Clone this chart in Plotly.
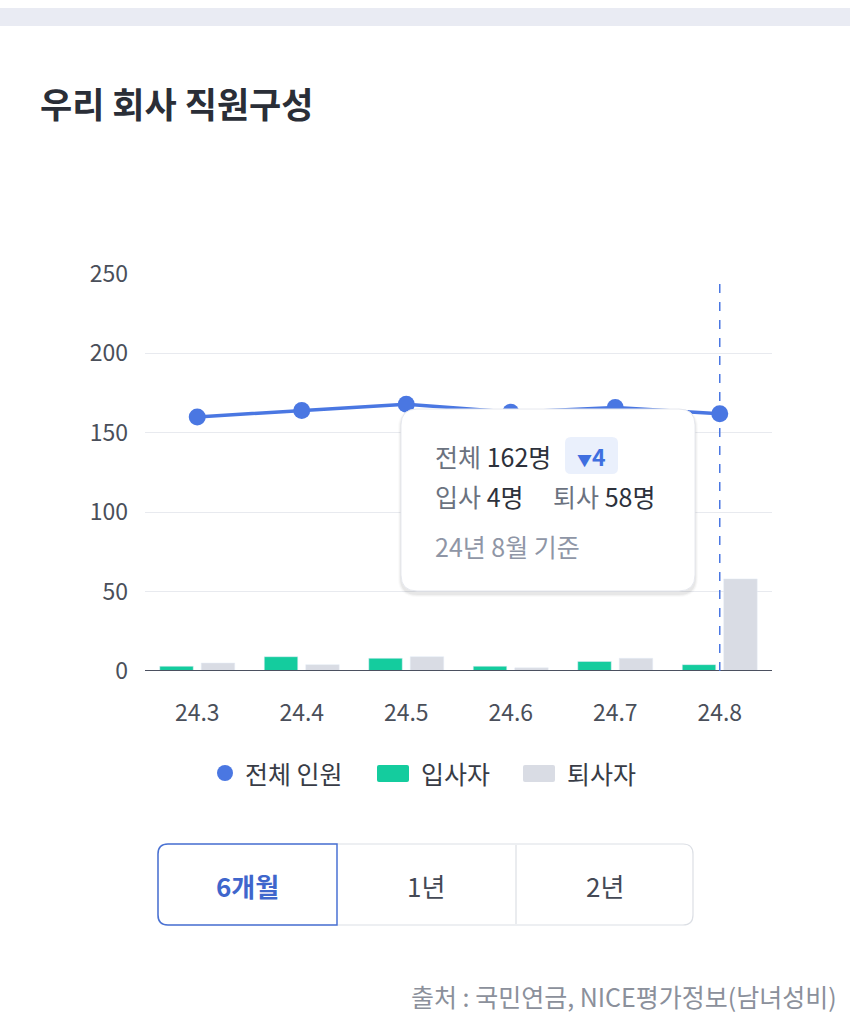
import plotly.graph_objects as go

# ---- data ----
months = ["24.3", "24.4", "24.5", "24.6", "24.7", "24.8"]
total = [160, 164, 168, 163, 166, 162]
joined = [3, 9, 8, 3, 6, 4]
left = [5, 4, 9, 2, 8, 58]
y_ticks = [0, 50, 100, 150, 200, 250]

W, H = 850, 1036
FONT = "Noto Sans CJK KR"
BLUE = "#4a77e2"
GREEN = "#14cc9e"
GRAY = "#d9dce4"


def px(x):
    return x / W


def py(y):
    return 1 - y / H


def path_from(pts):
    s = ""
    for p in pts:
        cmd = p[0]
        nums = p[1:]
        coords = []
        for i in range(0, len(nums), 2):
            coords.append(f"{px(nums[i]):.5f},{py(nums[i+1]):.5f}")
        s += cmd + " " + " ".join(coords) + " "
    return s + "Z"


def rrect(x0, y0, x1, y1, r):
    return path_from([
        ("M", x0 + r, y0), ("L", x1 - r, y0), ("Q", x1, y0, x1, y0 + r),
        ("L", x1, y1 - r), ("Q", x1, y1, x1 - r, y1), ("L", x0 + r, y1),
        ("Q", x0, y1, x0, y1 - r), ("L", x0, y0 + r), ("Q", x0, y0, x0 + r, y0),
    ])


def left_rrect(x0, y0, x1, y1, r):
    return path_from([
        ("M", x0 + r, y0), ("L", x1, y0), ("L", x1, y1), ("L", x0 + r, y1),
        ("Q", x0, y1, x0, y1 - r), ("L", x0, y0 + r), ("Q", x0, y0, x0 + r, y0),
    ])


fig = go.Figure()
fig.add_trace(go.Bar(x=months, y=joined, marker_color=GREEN, name="입사자",
                     showlegend=False, hoverinfo="skip"))
fig.add_trace(go.Bar(x=months, y=left, marker_color=GRAY, name="퇴사자",
                     showlegend=False, hoverinfo="skip"))
fig.add_trace(go.Scatter(x=months, y=total, mode="lines+markers", name="전체 인원",
                         line=dict(color=BLUE, width=3.5),
                         marker=dict(color=BLUE, size=17), showlegend=False,
                         hoverinfo="skip"))

shapes = []
annotations = []

# top band
shapes.append(dict(type="rect", xref="paper", yref="paper", x0=0, x1=1,
                   y0=py(26), y1=py(8), fillcolor="#e9ebf3", line_width=0, layer="below"))

# zero baseline
shapes.append(dict(type="line", xref="paper", yref="y", x0=px(145), x1=px(772), y0=0, y1=0,
                   line=dict(color="#4b5060", width=2), layer="above"))

# dashed vertical line at last month (category index)
sel = len(months) - 1
shapes.append(dict(type="line", xref="x", yref="paper", x0=sel, x1=sel,
                   y0=py(671), y1=py(277), line=dict(color=BLUE, width=1.5, dash="dash"),
                   layer="above"))

# tooltip shadow and box
for i, c in enumerate(["rgba(0,0,0,0.02)", "rgba(0,0,0,0.03)", "rgba(0,0,0,0.045)"]):
    g = 3 - i
    shapes.append(dict(type="path", xref="paper", yref="paper",
                       path=rrect(401 - g, 409 - g + 3, 695 + g, 591 + g + 3, 16 + g),
                       fillcolor=c, line_width=0, layer="above"))
shapes.append(dict(type="path", xref="paper", yref="paper", path=rrect(401, 409, 695, 591, 16),
                   fillcolor="white", line=dict(color="#e6e8ee", width=1), layer="above"))
# badge
shapes.append(dict(type="path", xref="paper", yref="paper", path=rrect(565, 437, 618, 474, 6),
                   fillcolor="#eaf0fc", line_width=0, layer="above"))

# legend
shapes.append(dict(type="circle", xref="paper", yref="paper", x0=px(217), x1=px(233),
                   y0=py(781), y1=py(765), fillcolor=BLUE, line_width=0))
shapes.append(dict(type="path", xref="paper", yref="paper", path=rrect(377, 765, 409, 782, 2),
                   fillcolor=GREEN, line_width=0))
shapes.append(dict(type="path", xref="paper", yref="paper", path=rrect(523, 765, 555, 782, 2),
                   fillcolor=GRAY, line_width=0))

# buttons
shapes.append(dict(type="path", xref="paper", yref="paper", path=rrect(158, 844, 693, 925, 10),
                   fillcolor="white", line=dict(color="#dcdfe5", width=1.2)))
shapes.append(dict(type="line", xref="paper", yref="paper", x0=px(516), x1=px(516),
                   y0=py(845), y1=py(924), line=dict(color="#dcdfe5", width=1.2)))
shapes.append(dict(type="path", xref="paper", yref="paper", path=left_rrect(158, 844, 337, 925, 10),
                   fillcolor="rgba(0,0,0,0)", line=dict(color="#4a72d4", width=1.5)))


def txt(x, y, s, size, color, anchor="left", bold=False):
    if bold:
        s = "<b>" + s + "</b>"
    annotations.append(dict(xref="paper", yref="paper", x=px(x), y=py(y), text=s,
                            showarrow=False, xanchor=anchor, yanchor="middle",
                            font=dict(family=FONT, size=size, color=color)))


txt(38, 102, "우리 회사 직원구성", 35, "#2a2e37", bold=True)

# tooltip text
txt(433, 456, "<span style='color:#6b7280'>전체</span> <span style='color:#2d313b'>162명</span>", 25, "#2d313b")
txt(591, 456, "<span style='font-size:15px'>▼</span>4", 23, "#3f6fe0", anchor="center", bold=True)
txt(433, 496, "<span style='color:#6b7280'>입사</span> <span style='color:#2d313b'>4명</span>", 25, "#2d313b")
txt(551, 496, "<span style='color:#6b7280'>퇴사</span> <span style='color:#2d313b'>58명</span>", 25, "#2d313b")
txt(433, 546, "24년 8월 기준", 25, "#8f96a6")

# legend text
txt(243, 773, "전체 인원", 25, "#383c46")
txt(419, 773, "입사자", 25, "#383c46")
txt(565, 773, "퇴사자", 25, "#383c46")

# buttons text
txt(247.5, 885, "6개월", 26, "#3f66cc", anchor="center", bold=True)
txt(426.5, 885, "1년", 26, "#444955", anchor="center")
txt(604.5, 885, "2년", 26, "#444955", anchor="center")

# source
txt(839, 996, "출처 : 국민연금, NICE평가정보(남녀성비)", 25, "#8b909b", anchor="right")

fig.update_layout(
    width=W, height=H, margin=dict(l=0, r=0, t=0, b=0, autoexpand=False),
    paper_bgcolor="white", plot_bgcolor="white",
    barmode="group", bargap=0.206, bargroupgap=0.193,
    shapes=shapes, annotations=annotations,
    font=dict(family=FONT),
    xaxis=dict(type="category", domain=[px(145), px(772)], range=[-0.5, len(months) - 0.5],
               showgrid=False, zeroline=False,
               showline=False, ticks="", tickfont=dict(size=23, color="#4a4f5a"),
               tickangle=0, automargin=False,
               ticklabelstandoff=26, fixedrange=True),
    yaxis=dict(domain=[py(671), py(274)], range=[0, 250], tickvals=y_ticks,
               showgrid=True, gridcolor="#e8eaef", gridwidth=1, zeroline=False,
               showline=False, ticks="", tickfont=dict(size=23, color="#4a4f5a"),
               automargin=False,
               ticklabelstandoff=16, fixedrange=True),
)

fig.write_html("out.html")
